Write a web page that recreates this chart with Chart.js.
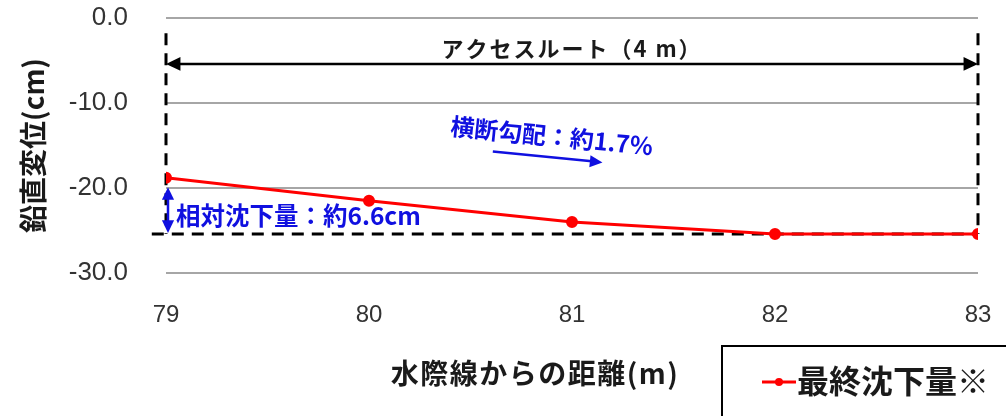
<!DOCTYPE html>
<html>
<head>
<meta charset="utf-8">
<script src="https://cdn.jsdelivr.net/npm/chart.js@4/dist/chart.umd.min.js"></script>
<style>
  html, body { margin: 0; padding: 0; background: #fff; }
  #wrap { width: 1006px; height: 416px; position: relative; }
</style>
</head>
<body>
<div id="wrap"><canvas id="chart"></canvas></div>
<script>
// values
const distances = [79, 80, 81, 82, 83];
const settlement = [-18.8, -21.5, -24.0, -25.4, -25.4];
const seriesLabel = "最終沈下量※";
const yAxisTitle = "鉛直変位(cm)";
const xAxisTitle = "水際線からの距離(m)";

// annotation values (data units)
const routeStart = 79;
const routeEnd = 83;
const routeTop = -1.8;
const routeArrowLevel = -5.4;
const routeLabel = "アクセスルート（4 m）";
const baseLevel = -25.4;
const baseLineStart = 78.93;
const relLabel = "相対沈下量：約6.6cm";
const relArrowTop = -19.9;
const slopeLabel = "横断勾配：約1.7%";
const slopeArrow = [{ x: 80.61, y: -15.7 }, { x: 81.15, y: -17.0 }];
const slopeText = { x: 80.9, y: -13.9 };

const JP = '"Noto Sans CJK JP", "Noto Sans", sans-serif';
const BLUE = "#1010e0";

function arrowHead(ctx, x1, y1, x2, y2, size) {
    const a = Math.atan2(y2 - y1, x2 - x1);
    ctx.beginPath();
    ctx.moveTo(x2, y2);
    ctx.lineTo(x2 - size * Math.cos(a - 0.45), y2 - size * Math.sin(a - 0.45));
    ctx.lineTo(x2 - size * Math.cos(a + 0.45), y2 - size * Math.sin(a + 0.45));
    ctx.closePath();
    ctx.fill();
}

function line(ctx, x1, y1, x2, y2) {
    ctx.beginPath();
    ctx.moveTo(x1, y1);
    ctx.lineTo(x2, y2);
    ctx.stroke();
}

const annotations = {
    id: "annotations",
    beforeDatasetsDraw(chart) {
        const { ctx, scales: { x, y } } = chart;
        ctx.save();
        // dashed frame of the access route
        ctx.strokeStyle = "#000";
        ctx.lineWidth = 3;
        ctx.setLineDash([12, 8]);
        line(ctx, x.getPixelForValue(routeStart), y.getPixelForValue(routeTop), x.getPixelForValue(routeStart), y.getPixelForValue(baseLevel));
        line(ctx, x.getPixelForValue(routeEnd), y.getPixelForValue(routeTop), x.getPixelForValue(routeEnd), y.getPixelForValue(baseLevel));
        line(ctx, x.getPixelForValue(baseLineStart), y.getPixelForValue(baseLevel), x.getPixelForValue(routeEnd), y.getPixelForValue(baseLevel));
        ctx.restore();
    },
    afterDatasetsDraw(chart) {
        const { ctx, scales: { x, y } } = chart;
        ctx.save();
        // route width arrow
        const ay = y.getPixelForValue(routeArrowLevel);
        const ax1 = x.getPixelForValue(routeStart), ax2 = x.getPixelForValue(routeEnd);
        ctx.strokeStyle = "#000";
        ctx.fillStyle = "#000";
        ctx.lineWidth = 2.5;
        line(ctx, ax1 + 8, ay, ax2 - 8, ay);
        arrowHead(ctx, ax2 - 20, ay, ax2, ay, 16);
        arrowHead(ctx, ax1 + 20, ay, ax1, ay, 16);
        ctx.fillStyle = "#1a1a1a";
        ctx.font = "bold 22px " + JP;
        ctx.letterSpacing = "2px";
        ctx.textAlign = "center";
        ctx.textBaseline = "alphabetic";
        ctx.fillText(routeLabel, x.getPixelForValue(81), ay - 7);
        ctx.letterSpacing = "0px";

        // relative settlement arrow
        const bx = x.getPixelForValue(routeStart) + 2;
        const by1 = y.getPixelForValue(relArrowTop), by2 = y.getPixelForValue(baseLevel) - 1;
        ctx.strokeStyle = BLUE;
        ctx.fillStyle = BLUE;
        ctx.lineWidth = 2.5;
        line(ctx, bx, by1 + 6, bx, by2 - 6);
        arrowHead(ctx, bx, by1 + 15, bx, by1, 14);
        arrowHead(ctx, bx, by2 - 15, bx, by2, 14);
        ctx.font = "bold 24.5px " + JP;
        ctx.textAlign = "left";
        ctx.textBaseline = "middle";
        ctx.fillText(relLabel, bx + 8, y.getPixelForValue(-23.3));

        // cross slope
        const s1x = x.getPixelForValue(slopeArrow[0].x), s1y = y.getPixelForValue(slopeArrow[0].y);
        const s2x = x.getPixelForValue(slopeArrow[1].x), s2y = y.getPixelForValue(slopeArrow[1].y);
        ctx.lineWidth = 2.5;
        line(ctx, s1x, s1y, s2x - 8, s2y - 1);
        arrowHead(ctx, s2x - 14, s2y - 1.4, s2x, s2y, 14);
        ctx.translate(x.getPixelForValue(slopeText.x), y.getPixelForValue(slopeText.y));
        ctx.rotate(0.1);
        ctx.font = "bold 24px " + JP;
        ctx.textAlign = "center";
        ctx.fillText(slopeLabel, 0, 0);
        ctx.restore();
    },
    afterDraw(chart) {
        const { ctx } = chart;
        ctx.save();
        // x axis title
        ctx.fillStyle = "#1a1a1a";
        ctx.font = "bold 28px " + JP;
        ctx.textAlign = "center";
        ctx.textBaseline = "middle";
        ctx.letterSpacing = "1.5px";
        ctx.fillText(xAxisTitle, 535, 373);
        ctx.letterSpacing = "0px";

        // legend box
        const ds = chart.data.datasets[0];
        ctx.strokeStyle = "#000";
        ctx.lineWidth = 2;
        ctx.strokeRect(722, 346, 300, 100);
        ctx.strokeStyle = ds.borderColor;
        ctx.fillStyle = ds.borderColor;
        ctx.lineWidth = 3;
        line(ctx, 762, 382, 796, 382);
        ctx.beginPath();
        ctx.arc(779, 382, 4, 0, Math.PI * 2);
        ctx.fill();
        ctx.fillStyle = "#1a1a1a";
        ctx.font = "bold 32px " + JP;
        ctx.textAlign = "left";
        ctx.fillText(ds.label, 797, 381);
        ctx.restore();
    },
};

new Chart(document.getElementById("chart"), {
    type: "line",
    data: {
        datasets: [
            {
                label: seriesLabel,
                data: distances.map((d, i) => ({ x: d, y: settlement[i] })),
                borderColor: "#ff0000",
                backgroundColor: "#ff0000",
                borderWidth: 3,
                pointRadius: 4.5,
                pointHoverRadius: 4.5,
                tension: 0,
            },
        ],
    },
    options: {
        responsive: true,
        maintainAspectRatio: false,
        animation: false,
        layout: { padding: { top: 18, right: 28, left: 0, bottom: 0 } },
        plugins: { legend: { display: false }, tooltip: { enabled: false } },
        scales: {
            x: {
                type: "linear",
                min: 79,
                max: 83,
                ticks: {
                    stepSize: 1,
                    padding: 28,
                    color: "#333",
                    font: { family: '"Liberation Sans Narrow", "Liberation Sans", sans-serif', size: 24 },
                },
                grid: { display: false, drawTicks: false },
                border: { display: false },
                afterFit: (s) => {
                    s.height = 143;
                    s.paddingLeft = 0;
                    s.paddingRight = 0;
                },
            },
            y: {
                min: -30,
                max: 0,
                ticks: {
                    stepSize: 10,
                    padding: 38,
                    color: "#333",
                    font: { family: '"Liberation Sans", sans-serif', size: 26 },
                    callback: (v) => v.toFixed(1),
                },
                grid: { color: "#a6a6a6", lineWidth: 2, drawTicks: false },
                border: { display: false },
                title: {
                    display: true,
                    text: yAxisTitle,
                    color: "#1a1a1a",
                    font: { family: JP, size: 28, weight: "bold" },
                    padding: { top: 17, bottom: 0 },
                },
                afterFit: (s) => {
                    s.width = 166;
                    s.paddingTop = 0;
                    s.paddingBottom = 0;
                },
            },
        },
    },
    plugins: [annotations],
});
</script>
</body>
</html>
